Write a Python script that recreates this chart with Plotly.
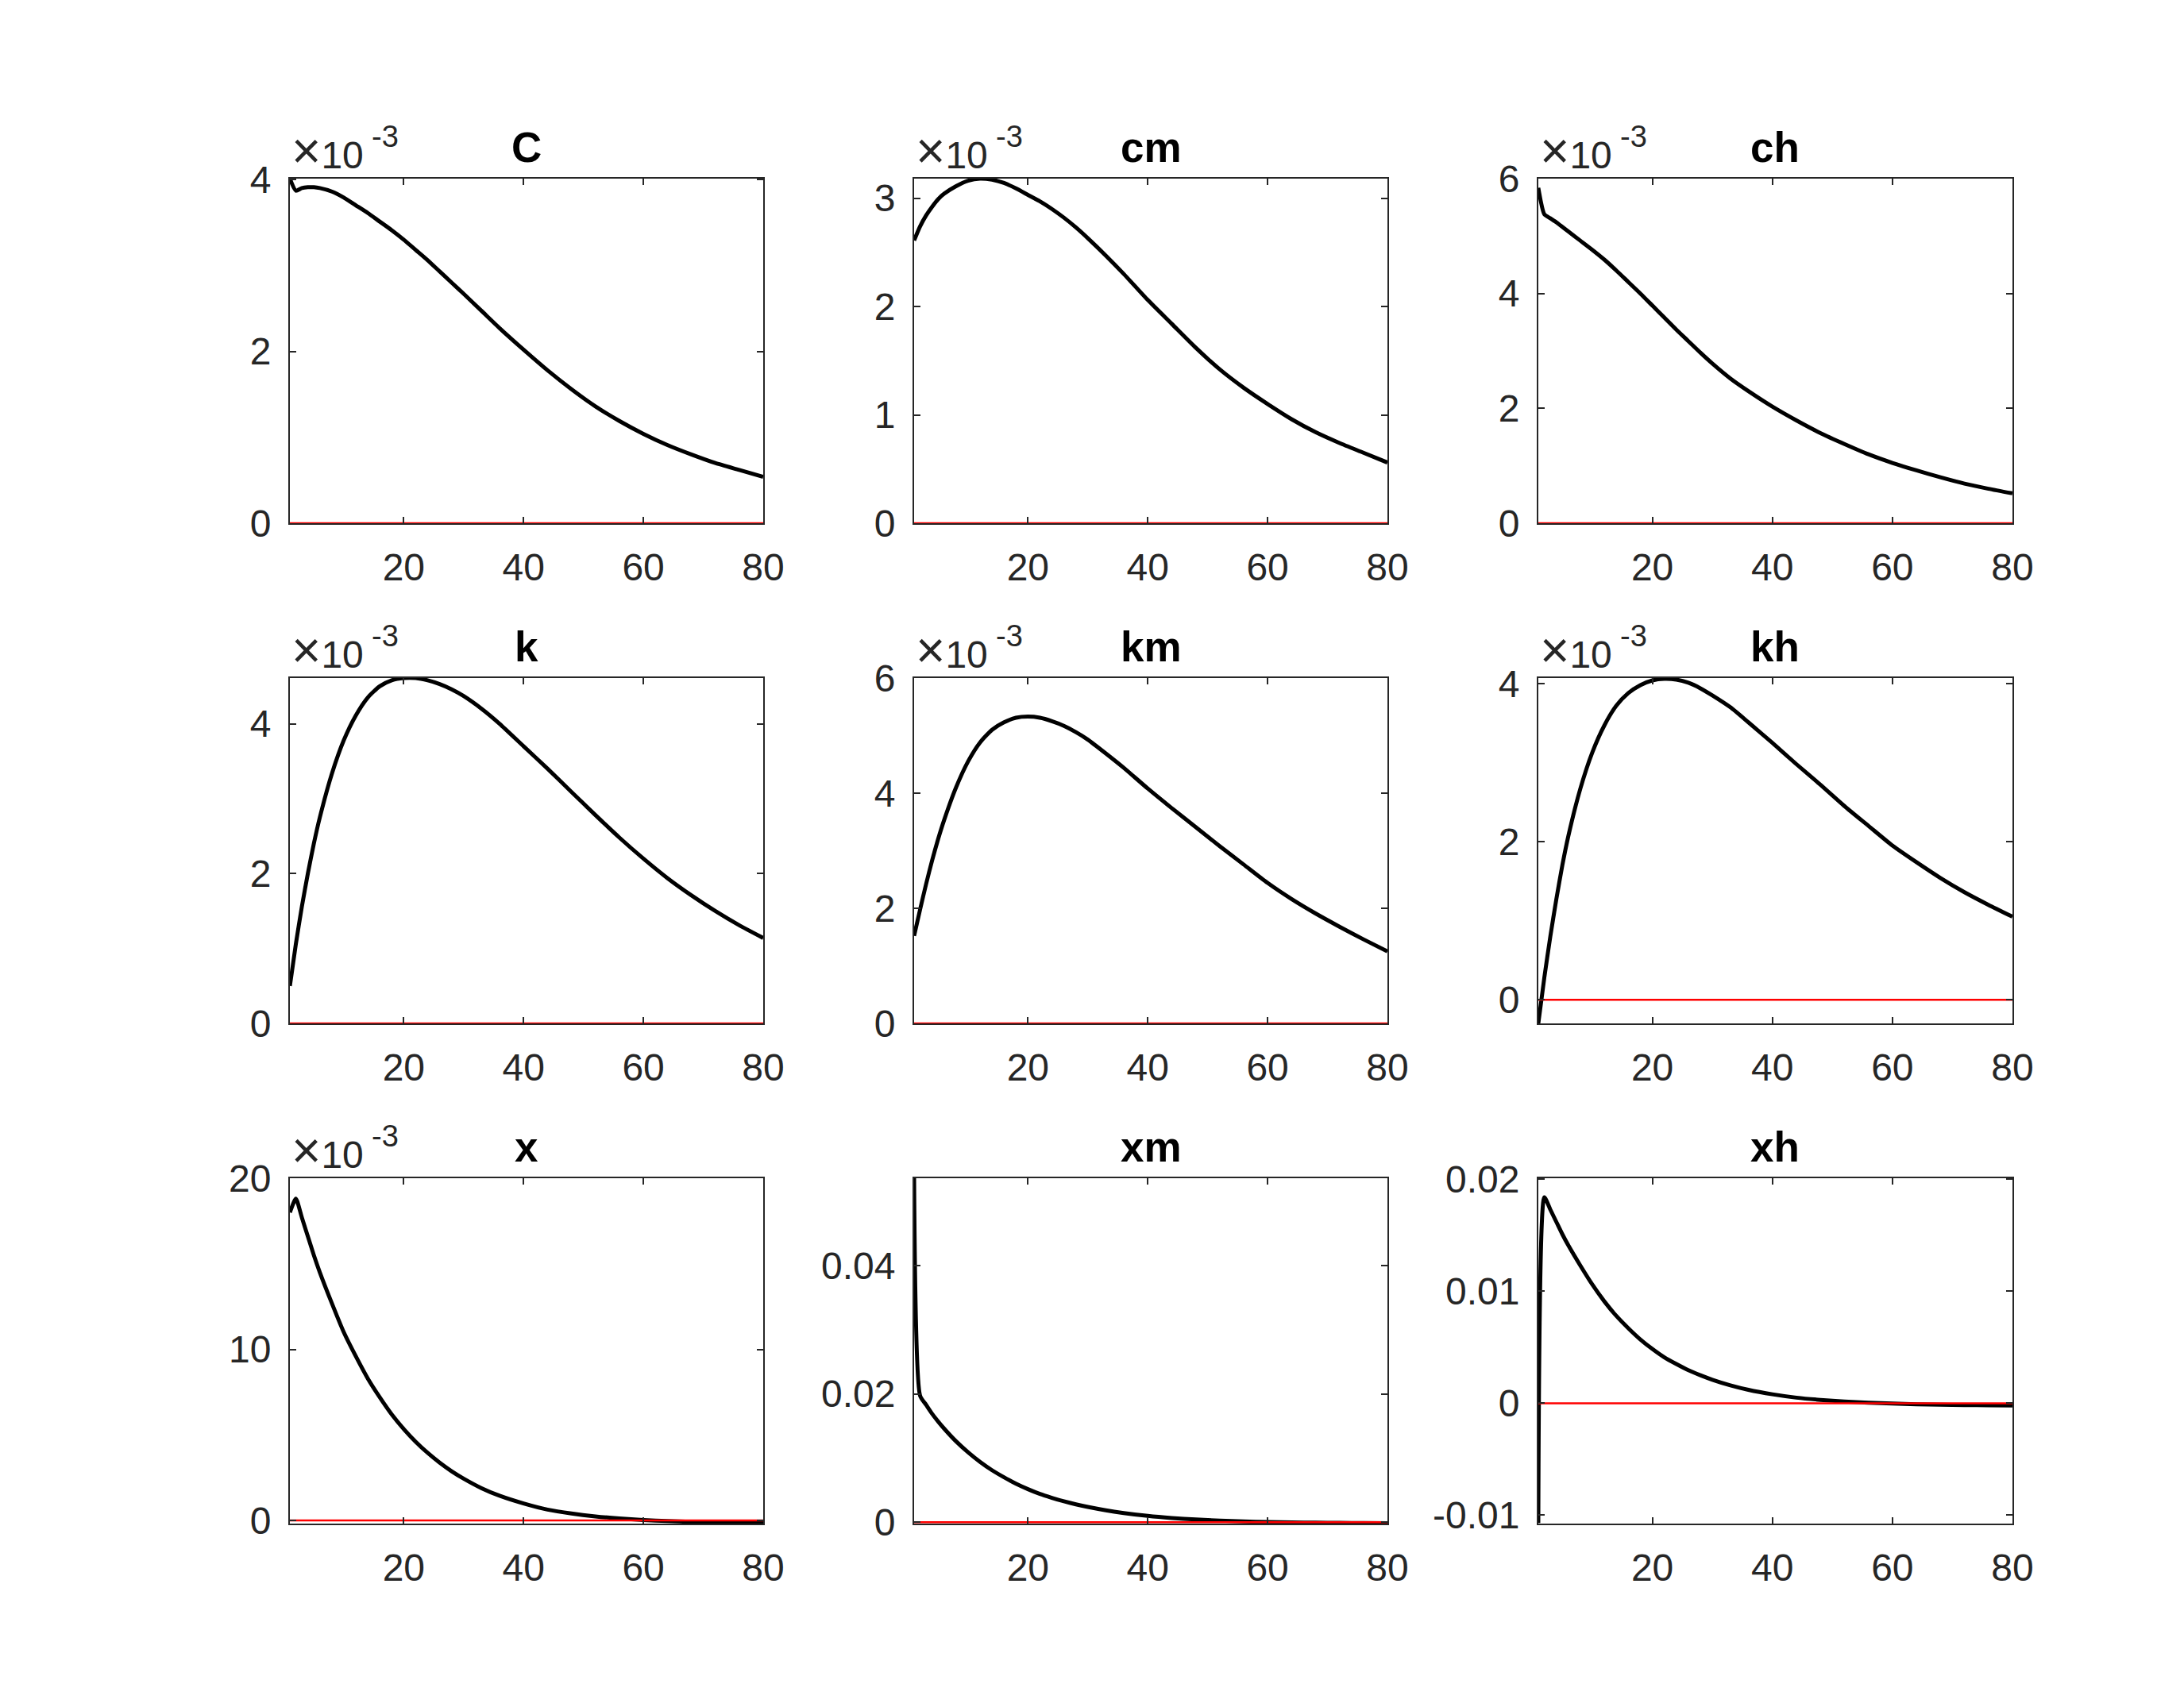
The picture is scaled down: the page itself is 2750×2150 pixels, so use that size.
import plotly.graph_objects as go

# ---------------- data (values in units of 1e-3) ----------------
periods = [1, 2, 3, 4, 5, 6, 8, 10, 12, 14, 16, 18, 20, 22, 24, 26, 28, 30,
           33, 36, 40, 44, 48, 52, 56, 60, 64, 68, 72, 76, 80]

titles = ["C", "cm", "ch", "k", "km", "kh", "x", "xm", "xh"]

C_e3 = [4.01, 3.87, 3.90, 3.91, 3.91, 3.90, 3.86, 3.79, 3.70, 3.61, 3.51, 3.41, 3.30,
        3.18, 3.06, 2.93, 2.80, 2.67, 2.47, 2.27, 2.02, 1.78, 1.56, 1.36, 1.19, 1.04,
        0.91, 0.80, 0.70, 0.62, 0.54]
cm_e3 = [2.61, 2.74, 2.84, 2.92, 2.99, 3.04, 3.11, 3.16, 3.18, 3.17, 3.14, 3.09, 3.03,
         2.97, 2.90, 2.82, 2.73, 2.63, 2.47, 2.30, 2.06, 1.84, 1.62, 1.42, 1.25, 1.10,
         0.96, 0.84, 0.74, 0.65, 0.56]
ch_e3 = [5.84, 5.38, 5.31, 5.24, 5.16, 5.08, 4.92, 4.76, 4.59, 4.40, 4.20, 4.00, 3.79,
         3.58, 3.37, 3.17, 2.97, 2.78, 2.52, 2.30, 2.03, 1.79, 1.57, 1.38, 1.20, 1.05,
         0.92, 0.80, 0.69, 0.60, 0.52]
k_e3 = [0.50, 1.06, 1.56, 2.00, 2.40, 2.75, 3.33, 3.78, 4.11, 4.35, 4.50, 4.58, 4.61,
        4.61, 4.58, 4.53, 4.46, 4.37, 4.20, 4.00, 3.70, 3.40, 3.09, 2.78, 2.48, 2.20,
        1.94, 1.71, 1.50, 1.31, 1.14]
km_e3 = [1.52, 1.98, 2.42, 2.83, 3.20, 3.53, 4.10, 4.55, 4.88, 5.10, 5.23, 5.31, 5.33,
         5.31, 5.25, 5.17, 5.06, 4.93, 4.69, 4.44, 4.08, 3.74, 3.41, 3.08, 2.76, 2.44,
         2.16, 1.91, 1.68, 1.46, 1.25]
kh_e3 = [-0.30, 0.28, 0.80, 1.27, 1.70, 2.07, 2.67, 3.13, 3.47, 3.72, 3.88, 3.98, 4.04,
         4.06, 4.05, 4.01, 3.94, 3.85, 3.70, 3.51, 3.25, 2.98, 2.72, 2.45, 2.20, 1.95,
         1.74, 1.54, 1.36, 1.20, 1.05]
x_e3 = [18.0, 18.8, 17.7, 16.6, 15.5, 14.5, 12.7, 11.0, 9.6, 8.3, 7.2, 6.2, 5.35,
        4.6, 3.95, 3.38, 2.88, 2.45, 1.89, 1.45, 1.00, 0.64, 0.41, 0.24, 0.12, 0.03,
        -0.03, -0.08, -0.11, -0.135, -0.155]
xm_e3 = [53.6, 19.7, 18.3, 16.9, 15.7, 14.6, 12.6, 10.9, 9.4, 8.1, 7.0, 6.0, 5.15,
         4.4, 3.8, 3.25, 2.78, 2.37, 1.85, 1.43, 0.98, 0.66, 0.42, 0.25, 0.12, 0.03,
         -0.04, -0.08, -0.11, -0.13, -0.15]
xh_e3 = [-10.7, 18.4, 17.3, 16.2, 15.1, 14.1, 12.3, 10.6, 9.1, 7.8, 6.7, 5.7, 4.85,
         4.1, 3.5, 2.95, 2.5, 2.1, 1.6, 1.2, 0.8, 0.5, 0.3, 0.15, 0.05, -0.03,
         -0.09, -0.13, -0.16, -0.18, -0.20]

zero_line = [0.0 for _ in periods]

series_e3 = [C_e3, cm_e3, ch_e3, k_e3, km_e3, kh_e3, x_e3, xm_e3, xh_e3]

y_ranges_e3 = [[0, 4.01], [0, 3.18], [0, 6.0], [0, 4.61], [0, 6.0],
               [-0.30, 4.07], [-0.18, 20.0], [-0.22, 53.6], [-10.75, 20.1]]
y_ticks_e3 = [[0, 2, 4], [0, 1, 2, 3], [0, 2, 4, 6], [0, 2, 4], [0, 2, 4, 6],
              [0, 2, 4], [0, 10, 20], [0, 20, 40], [-10, 0, 10, 20]]
y_ticktext = [["0", "2", "4"], ["0", "1", "2", "3"], ["0", "2", "4", "6"],
              ["0", "2", "4"], ["0", "2", "4", "6"], ["0", "2", "4"],
              ["0", "10", "20"], ["0", "0.02", "0.04"], ["-0.01", "0", "0.01", "0.02"]]
has_exponent = [True, True, True, True, True, True, True, False, False]
x_ticks = [20, 40, 60, 80]
x_ticktext = ["20", "40", "60", "80"]

# ---------------- layout geometry ----------------
col_domains = [(0.13273, 0.34945), (0.41855, 0.63527), (0.70436, 0.92145)]
row_domains = [(0.69349, 0.89535), (0.40047, 0.60279), (0.10744, 0.30977)]

FONT = "Liberation Sans, Arial, Helvetica, sans-serif"
AXC = "#262626"

fig = go.Figure()
layout_axes = {}
annotations = []

for i in range(9):
    r, c = divmod(i, 3)
    n = "" if i == 0 else str(i + 1)
    xa, ya = "x" + n, "y" + n
    vals = [v * 1e-3 for v in series_e3[i]]
    fig.add_trace(go.Scatter(x=periods, y=vals, mode="lines",
                             line=dict(color="black", width=5, shape="spline", smoothing=0.6),
                             xaxis=xa, yaxis=ya, hoverinfo="skip", showlegend=False))
    fig.add_trace(go.Scatter(x=periods, y=zero_line, mode="lines",
                             line=dict(color="#ff0000", width=2.5),
                             xaxis=xa, yaxis=ya, hoverinfo="skip", showlegend=False))

    common = dict(showline=True, linecolor=AXC, linewidth=2, mirror="ticks",
                  ticks="inside", ticklen=8, tickwidth=2, tickcolor=AXC,
                  showgrid=False, zeroline=False, automargin=False,
                  tickfont=dict(family=FONT, size=48, color=AXC))
    layout_axes["xaxis" + n] = dict(domain=list(col_domains[c]), anchor=ya,
                                    range=[1, 80], tickvals=x_ticks, ticktext=x_ticktext,
                                    ticklabelstandoff=12, **common)
    lo, hi = y_ranges_e3[i]
    layout_axes["yaxis" + n] = dict(domain=list(row_domains[r]), anchor=xa,
                                    range=[lo * 1e-3, hi * 1e-3 + 1e-9],
                                    tickvals=[t * 1e-3 for t in y_ticks_e3[i]],
                                    ticktext=y_ticktext[i],
                                    ticklabelstandoff=12, **common)

    annotations.append(dict(text="<b>%s</b>" % titles[i], xref=xa + " domain", yref=ya + " domain",
                            x=0.5, y=1, xanchor="center", yanchor="bottom", yshift=8,
                            showarrow=False, font=dict(family=FONT, size=53, color="black")))
    if has_exponent[i]:
        annotations.append(dict(text="<span style='font-size:64px'>\u00d7</span>10",
                                xref=xa + " domain", yref=ya + " domain",
                                x=0, y=1, xanchor="left", yanchor="bottom", xshift=0, yshift=-3,
                                showarrow=False, font=dict(family=FONT, size=48, color=AXC)))
        annotations.append(dict(text="-3", xref=xa + " domain", yref=ya + " domain",
                                x=0, y=1, xanchor="left", yanchor="bottom", xshift=101, yshift=30,
                                showarrow=False, font=dict(family=FONT, size=38, color=AXC)))

fig.update_layout(width=2750, height=2150, margin=dict(l=0, r=0, t=0, b=0, autoexpand=False),
                  template="none",
                  paper_bgcolor="white", plot_bgcolor="white", showlegend=False,
                  annotations=annotations, **layout_axes)

fig.write_html("out.html")
